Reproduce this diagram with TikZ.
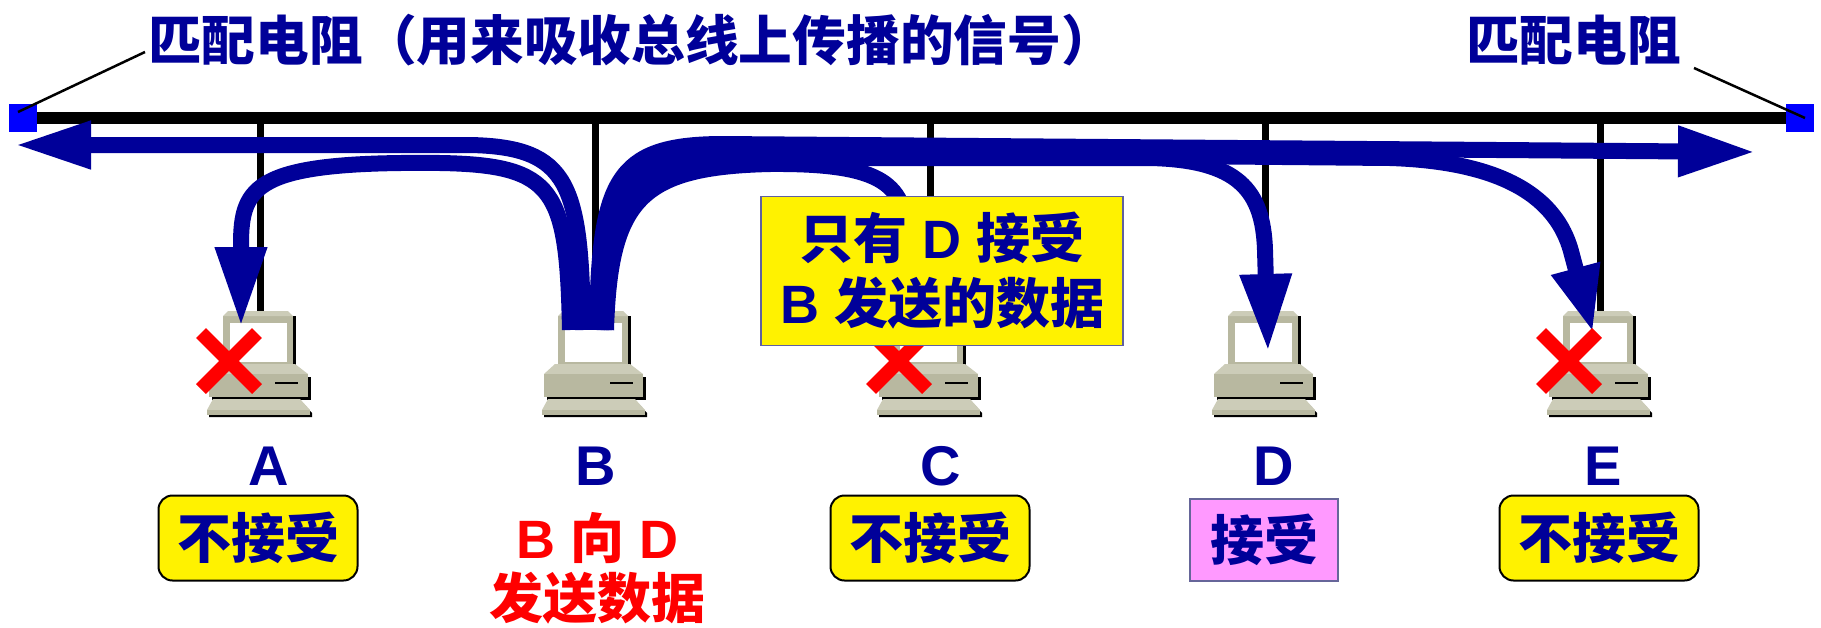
\documentclass[tikz,border=0pt]{standalone}
\usepackage{fontspec}
\setmainfont{Liberation Sans}
\newfontfamily\cjk{Noto Sans CJK SC}
\usetikzlibrary{arrows.meta}

\definecolor{navy}{RGB}{0,0,153}
\definecolor{pcface}{RGB}{184,184,160}
\definecolor{pclight}{RGB}{204,204,184}
\definecolor{notebd}{RGB}{96,96,160}
\definecolor{pinkbox}{RGB}{255,153,255}
\definecolor{pinkbd}{RGB}{102,102,153}

\tikzset{
  term/.style={fill={rgb,255:red,0;green,0;blue,255}, minimum size=28pt, inner sep=0pt, draw=none},
  leader/.style={line width=2.5pt},
  drop/.style={line width=7pt},
  title/.style={font=\cjk\bfseries\fontsize{53.7}{60}\selectfont, text=navy, inner sep=0pt},
  lbl/.style={font=\bfseries\fontsize{56}{60}\selectfont, text=navy, anchor=base, inner sep=0pt},
  nobox/.style={draw=black, line width=2pt, fill=yellow, rounded corners=14pt,
    minimum width=199pt, minimum height=85pt, inner sep=0pt,
    font=\cjk\bfseries\fontsize{54}{60}\selectfont, text=navy},
  yesbox/.style={draw=pinkbd, line width=2pt, fill=pinkbox,
    minimum width=148pt, minimum height=82pt, inner sep=0pt,
    font=\cjk\bfseries\fontsize{54}{60}\selectfont, text=navy},
  note/.style={draw=notebd, line width=1.5pt, fill=yellow,
    minimum width=362pt, minimum height=149pt, inner sep=0pt, align=center,
    font=\bfseries\fontsize{54}{65}\selectfont, text=navy},
  sendtxt/.style={align=center, inner sep=0pt, text={rgb,255:red,255;green,0;blue,0},
    font=\bfseries\fontsize{54}{60}\selectfont},
  flow/.style={draw=navy, line width=16pt},
  head/.style 2 args={-{Triangle[length=#1pt,width=#2pt]}},
  computer/.pic={
    % drop shadows
    \fill[black] (35,5) rectangle (38,56);
    \fill[black] (-46,66) rectangle (53,89);
    \fill[black] (-43,91) -- (44,91) -- (54,102) -- (54,106) -- (-49,106) -- (-49,102) -- cycle;
    % monitor
    \fill[pcface] (-35,5) rectangle (35,57);
    \fill[pclight] (-30,0) -- (30,0) -- (35,5) -- (-35,5) -- cycle;
    \fill[white] (-28,12) rectangle (29,51);
    % system unit
    \fill[pclight] (-38,53) -- (37,53) -- (50,63) -- (-49,63) -- cycle;
    \fill[pcface] (-49,63) rectangle (50,86);
    \draw[line width=2pt] (17,72) -- (40,72);
    % keyboard
    \fill[pclight] (-45,88) -- (42,88) -- (52,99) -- (-51,99) -- cycle;
    \fill[pcface] (-51,99) rectangle (52,104);
  },
  cross/.pic={
    \draw[red, line width=14pt] (-28,-28) -- (28,28) (-28,28) -- (28,-28);
  },
}

\begin{document}
\begin{tikzpicture}[x={(1pt,0pt)}, y={(0pt,-1pt)}]
\fill[white] (0,0) rectangle (1821,627);
\useasboundingbox (0,0) rectangle (1821,627);

% bus with terminators
\node[term] (rL) at (23,118) {};
\node[term] (rR) at (1800,118) {};
\draw[line width=12pt] (rL.east) -- (rR.west);

% titles and leader lines
\node[title, anchor=base west] (tL) at (148,60) {匹配电阻（用来吸收总线上传播的信号）};
\node[title, anchor=base west] (tR) at (1466,60) {匹配电阻};
\coordinate (lL) at (145,52);
\coordinate (pL) at (18,112);
\coordinate (lR) at (1694,68);
\coordinate (pR) at (1805,118);
\draw[leader] (lL) -- (pL);
\draw[leader] (lR) -- (pR);

% stations: drop lines and computers
\foreach \n/\cx in {A/258,B/593,C/928,D/1263,E/1598} {
  \coordinate (pc\n) at (\cx,311);
  \coordinate (tap\n) at (\cx+2,119);
  \draw[drop] (tap\n) -- (\cx+2,311);
  \pic at (pc\n) {computer};
}

% arrow tips
\coordinate (tipL) at (14,145);
\coordinate (tipA) at (241,327);
\coordinate (tipC) at (907,330);
\coordinate (tipD) at (1268,352);
\coordinate (tipE) at (1593,333);
\coordinate (tipR) at (1756,152);

% signal spreading from B
\draw[flow, head={77}{44}] (583,330) .. controls (581,185) and (570,147) .. (470,145) -- (tipL);
\draw[flow, head={80}{48}] (570,330) .. controls (567,190) and (556,165) .. (440,163)
   .. controls (255,161) and (241,185) .. (241,245) -- (tipA);
\draw[flow, head={78}{47}] (597,330) .. controls (599,180) and (615,145) .. (720,144) -- (tipR);
\draw[flow, head={67}{46}] (601,330) .. controls (604,185) and (628,155) .. (745,152) -- (1390,158)
   .. controls (1515,162) and (1560,205) .. (1572,255) -- (tipE);
\draw[flow, head={78}{48}] (604,330) .. controls (608,190) and (636,160) .. (760,158) -- (1150,158)
   .. controls (1238,160) and (1263,190) .. (1265,250) -- (tipD);
\draw[flow, head={70}{46}] (606,330) .. controls (610,200) and (640,167) .. (770,164)
   .. controls (885,163) and (906,185) .. (907,240) -- (tipC);

% rejected frames
\foreach \cx in {258,928,1598} {
  \pic at (\cx-29,361) {cross};
}

% callout
\node[note] (note) at (942,271) {{\cjk 只有} D {\cjk 接受}\\B {\cjk 发送的数据}};

% station names
\node[lbl] (labA) at (269,485) {A};
\node[lbl] (labB) at (596,485) {B};
\node[lbl] (labC) at (941,485) {C};
\node[lbl] (labD) at (1274,485) {D};
\node[lbl] (labE) at (1603,485) {E};

% status boxes
\node[nobox] (boxA) at (258,538) {不接受};
\node[nobox] (boxC) at (930,538) {不接受};
\node[yesbox] (boxD) at (1264,540) {接受};
\node[nobox] (boxE) at (1599,538) {不接受};
\node[sendtxt] (send) at (597,568) {B {\cjk 向} D\\{\cjk 发送数据}};
\end{tikzpicture}
\end{document}
